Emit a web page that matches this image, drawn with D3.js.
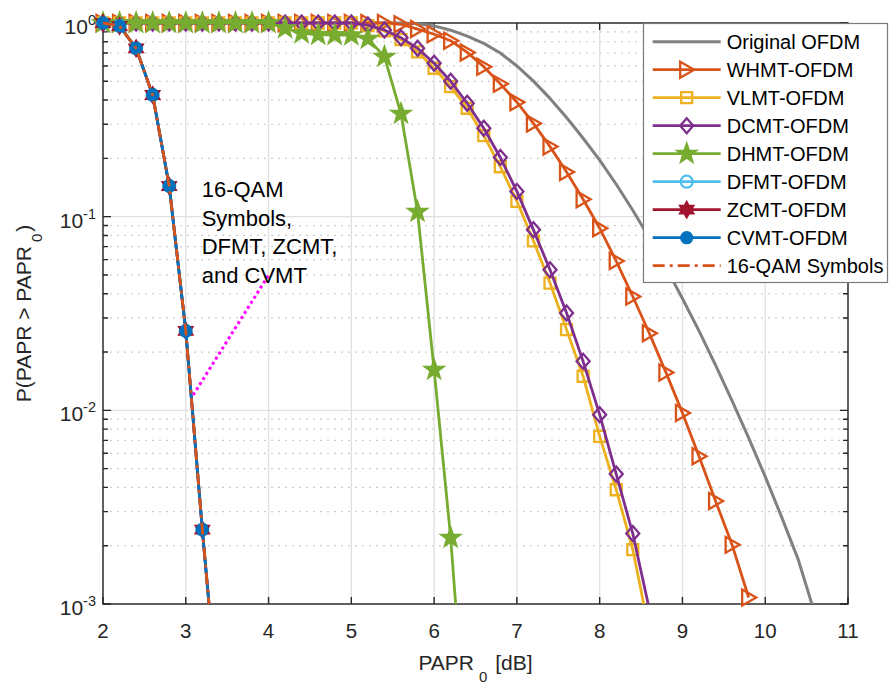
<!DOCTYPE html>
<html>
<head>
<meta charset="utf-8">
<script src="https://cdn.jsdelivr.net/npm/d3@7"></script>
<style>
  body { margin: 0; background: #fff; }
  text { font-family: "Liberation Sans", Arial, Helvetica, sans-serif; fill: #262626; }
</style>
</head>
<body>
<svg id="chart" width="889" height="684"></svg>
<script>
// PAPR0 sample points [dB]
const xGrid = [2.0, 2.2, 2.4, 2.6, 2.8, 3.0, 3.2, 3.4, 3.6, 3.8, 4.0, 4.2, 4.4, 4.6, 4.8, 5.0,
  5.2, 5.4, 5.6, 5.8, 6.0, 6.2, 6.4, 6.6, 6.8, 7.0, 7.2, 7.4, 7.6, 7.8, 8.0, 8.2, 8.4, 8.6,
  8.8, 9.0, 9.2, 9.4, 9.6, 9.8, 10.0, 10.2, 10.4, 10.6];

// CCDF values, one entry per xGrid point (shorter arrays stop early)
const originalOFDM = [1, 1, 1, 1, 1, 1, 1, 1, 1, 1, 1, 1, 1, 1, 1, 1, 1, 1, 1,
  0.991, 0.966, 0.918, 0.855, 0.785, 0.70, 0.60, 0.501, 0.408, 0.325, 0.254, 0.196, 0.147,
  0.108, 0.0776, 0.0547, 0.0378, 0.0257, 0.0171, 0.0112, 0.0072, 0.00455, 0.0028, 0.00169, 0.00089];
const whmt = [1, 1, 1, 1, 1, 1, 1, 1, 1, 1, 1, 1, 1, 1, 1, 1, 1, 1,
  0.985, 0.93, 0.875, 0.81, 0.705, 0.595, 0.485, 0.39, 0.303, 0.230, 0.170, 0.123, 0.0872,
  0.059, 0.0387, 0.025, 0.0157, 0.0097, 0.0058, 0.0034, 0.00202, 0.00108];
const vlmt = [1, 1, 1, 1, 1, 1, 1, 1, 1, 1, 1, 1, 1, 1, 1, 1,
  0.97, 0.91, 0.82, 0.71, 0.584, 0.469, 0.363, 0.262, 0.181, 0.120, 0.075, 0.0454, 0.0261,
  0.0150, 0.00733, 0.00389, 0.00191, 0.00072];
const dcmt = [1, 1, 1, 1, 1, 1, 1, 1, 1, 1, 1, 1, 1, 1, 1, 1,
  0.976, 0.92, 0.84, 0.74, 0.62, 0.50, 0.385, 0.286, 0.202, 0.135, 0.0855, 0.0532, 0.0318,
  0.0179, 0.0095, 0.00469, 0.00231, 0.00094];
const dhmt = [1, 1, 1, 1, 1, 1, 1, 1, 1, 1, 1,
  0.94, 0.885, 0.87, 0.867, 0.865, 0.83, 0.67, 0.34, 0.106, 0.0162, 0.0022, 0.00016];
const dfmt = [1, 0.965, 0.74, 0.425, 0.144, 0.0257, 0.00242, 0.00027];
const zcmt = [1, 0.965, 0.74, 0.425, 0.144, 0.0257, 0.00242, 0.00027];
const cvmt = [1, 0.965, 0.74, 0.425, 0.144, 0.0257, 0.00242, 0.00027];
const qam16 = [1, 0.965, 0.74, 0.425, 0.144, 0.0257, 0.00242, 0.00027];

const xTicks = [2, 3, 4, 5, 6, 7, 8, 9, 10, 11];
const yDecades = [1e-3, 1e-2, 1e-1, 1];
const yDecadeLabels = ["-3", "-2", "-1", "0"];

// annotation pointer (data coords) and its text
const noteX = [3.09, 4.01];
const noteY = [0.012, 0.0507];
const noteLines = ["16-QAM", "Symbols,", "DFMT, ZCMT,", "and CVMT"];

// marker shapes
function starPath(n, ro, ri) {
  const pts = d3.range(2 * n).map(i => {
    const a = -Math.PI / 2 + i * Math.PI / n;
    const r = i % 2 ? ri : ro;
    return [r * Math.cos(a), r * Math.sin(a)];
  });
  return "M" + pts.map(p => p[0].toFixed(2) + "," + p[1].toFixed(2)).join("L") + "Z";
}
const shapes = {
  triRight: "M7.5,0L-6.5,-8L-6.5,8Z",
  square: "M-5.5,-5.5H5.5V5.5H-5.5Z",
  diamond: "M0,-7.5L6.5,0L0,7.5L-6.5,0Z",
  pentagram: starPath(5, 9.5, 3.8),
  hexagram: starPath(6, 7.5, 4.3),
  circle: d3.symbol(d3.symbolCircle, Math.PI * 36)(),
  dot: d3.symbol(d3.symbolCircle, Math.PI * 30)()
};

const series = [
  { name: "Original OFDM", values: originalOFDM, color: "#808080", width: 3, marker: null },
  { name: "WHMT-OFDM", values: whmt, color: "#D95319", width: 2.8, marker: "triRight", fill: "none" },
  { name: "VLMT-OFDM", values: vlmt, color: "#EDB120", width: 2.8, marker: "square", fill: "none" },
  { name: "DCMT-OFDM", values: dcmt, color: "#7E2F8E", width: 2.8, marker: "diamond", fill: "none" },
  { name: "DHMT-OFDM", values: dhmt, color: "#77AC30", width: 2.8, marker: "pentagram", fill: "#77AC30" },
  { name: "DFMT-OFDM", values: dfmt, color: "#4DBEEE", width: 2.8, marker: "circle", fill: "none" },
  { name: "ZCMT-OFDM", values: zcmt, color: "#A2142F", width: 2.8, marker: "hexagram", fill: "#A2142F" },
  { name: "CVMT-OFDM", values: cvmt, color: "#0072BD", width: 2.8, marker: "dot", fill: "#0072BD" },
  { name: "16-QAM Symbols", values: qam16, color: "#D95319", width: 2.8, marker: null, dash: "12,5,3,5" }
];

const W = 889, H = 684;
const margin = { top: 23, right: 41, bottom: 80, left: 103 };
const svg = d3.select("#chart");

const x = d3.scaleLinear().domain([2, 11]).range([margin.left, W - margin.right]);
const y = d3.scaleLog().domain([1e-3, 1]).range([H - margin.bottom, margin.top]);

const x0 = x.range()[0], x1 = x.range()[1];
const yb = y.range()[0], yt = y.range()[1];

const yAll = y.ticks();
const isDecade = v => Math.abs(Math.log10(v) - Math.round(Math.log10(v))) < 1e-9;
const yMinor = yAll.filter(v => !isDecade(v));

// grid
const grid = svg.append("g");
grid.selectAll(".ymin").data(yMinor).join("line")
  .attr("x1", x0).attr("x2", x1)
  .attr("y1", d => y(d)).attr("y2", d => y(d))
  .attr("stroke", "#cccccc").attr("stroke-width", 1.2).attr("stroke-dasharray", "2,5");
grid.selectAll(".ymaj").data(yDecades).join("line")
  .attr("x1", x0).attr("x2", x1)
  .attr("y1", d => y(d)).attr("y2", d => y(d))
  .attr("stroke", "#e0e0e0").attr("stroke-width", 1.3);
grid.selectAll(".xmaj").data(xTicks).join("line")
  .attr("x1", d => x(d)).attr("x2", d => x(d))
  .attr("y1", yt).attr("y2", yb)
  .attr("stroke", "#e0e0e0").attr("stroke-width", 1.3);

// axes box + inward ticks
const ax = svg.append("g").attr("stroke", "#262626").attr("stroke-width", 1.4);
ax.append("rect").attr("x", x0).attr("y", yt).attr("width", x1 - x0).attr("height", yb - yt)
  .attr("fill", "none");
ax.selectAll(".xt").data(xTicks).join("path")
  .attr("d", d => `M${x(d)},${yb}v-7M${x(d)},${yt}v7`);
ax.selectAll(".yt").data(yAll).join("path")
  .attr("d", d => {
    const len = isDecade(d) ? 8 : 5;
    return `M${x0},${y(d)}h${len}M${x1},${y(d)}h${-len}`;
  });

// tick labels
svg.append("g").selectAll("text").data(xTicks).join("text")
  .attr("x", d => x(d)).attr("y", yb + 34)
  .attr("text-anchor", "middle").attr("font-size", 20.5)
  .text(d => d);

const yl = svg.append("g").selectAll("text").data(yDecades).join("text")
  .attr("x", x0 - 7).attr("y", d => y(d) + 11)
  .attr("text-anchor", "end").attr("font-size", 21);
yl.append("tspan").text("10");
yl.append("tspan").attr("dy", -9).attr("font-size", 14.5)
  .text((d, i) => yDecadeLabels[i]);

// axis labels
const xl = svg.append("text")
  .attr("x", (x0 + x1) / 2).attr("y", 670)
  .attr("text-anchor", "middle").attr("font-size", 21);
xl.append("tspan").text("PAPR");
xl.append("tspan").attr("dx", 5).attr("dy", 12).attr("font-size", 15).text("0");
xl.append("tspan").attr("dx", 2).attr("dy", -12).text(" [dB]");

const ylab = svg.append("text")
  .attr("transform", `translate(31,${(yt + yb) / 2}) rotate(-90)`)
  .attr("text-anchor", "middle").attr("font-size", 21);
ylab.append("tspan").text("P(PAPR > PAPR");
ylab.append("tspan").attr("dx", 4).attr("dy", 11).attr("font-size", 15).text("0");
ylab.append("tspan").attr("dx", 2).attr("dy", -11).text(")");

// data
svg.append("defs").append("clipPath").attr("id", "plotclip")
  .append("rect").attr("x", x0).attr("y", yt - 3).attr("width", x1 - x0).attr("height", yb - yt + 3);

const line = d3.line().x((d, i) => x(xGrid[i])).y(d => y(d));

const plot = svg.append("g");
series.forEach(s => {
  const g = plot.append("g");
  g.append("path")
    .attr("clip-path", "url(#plotclip)")
    .attr("d", line(s.values))
    .attr("fill", "none")
    .attr("stroke", s.color)
    .attr("stroke-width", s.width)
    .attr("stroke-linejoin", "round")
    .attr("stroke-dasharray", s.dash || null);
  if (s.marker) {
    const pts = s.values.map((v, i) => [xGrid[i], v]).filter(p => p[1] >= 1e-3 && p[1] <= 1);
    g.selectAll("path.m").data(pts).join("path")
      .attr("class", "m")
      .attr("transform", d => `translate(${x(d[0])},${y(d[1])})`)
      .attr("d", shapes[s.marker])
      .attr("fill", s.fill)
      .attr("stroke", s.color)
      .attr("stroke-width", 2.3)
      .attr("stroke-linejoin", "miter");
  }
});

// annotation
svg.append("line")
  .attr("x1", x(noteX[0])).attr("y1", y(noteY[0]))
  .attr("x2", x(noteX[1])).attr("y2", y(noteY[1]))
  .attr("stroke", "#FF00FF").attr("stroke-width", 3).attr("stroke-dasharray", "3,3");
svg.append("g").selectAll("text").data(noteLines).join("text")
  .attr("x", 201.7).attr("y", (d, i) => 197 + i * 28.7)
  .attr("font-size", 22)
  .style("fill", "#000")
  .text(d => d);

// legend
const leg = svg.append("g");
leg.append("rect").attr("x", 643.5).attr("y", 23.5).attr("width", 244).attr("height", 259)
  .attr("fill", "#fff").attr("stroke", "#7a7a7a").attr("stroke-width", 1.2);
const items = leg.selectAll("g.item").data(series).join("g")
  .attr("class", "item")
  .attr("transform", (d, i) => `translate(0,${41.7 + i * 28})`);
items.append("line")
  .attr("x1", 652.7).attr("x2", 720.7)
  .attr("stroke", d => d.color).attr("stroke-width", d => d.width)
  .attr("stroke-dasharray", d => d.dash || null);
items.filter(d => d.marker).append("path")
  .attr("transform", "translate(686.7,0)")
  .attr("d", d => shapes[d.marker])
  .attr("fill", d => d.fill)
  .attr("stroke", d => d.color)
  .attr("stroke-width", 2.3);
items.append("text")
  .attr("x", 726.7).attr("y", 7.2)
  .attr("font-size", 20).style("fill", "#000")
  .text(d => d.name);
</script>
</body>
</html>
